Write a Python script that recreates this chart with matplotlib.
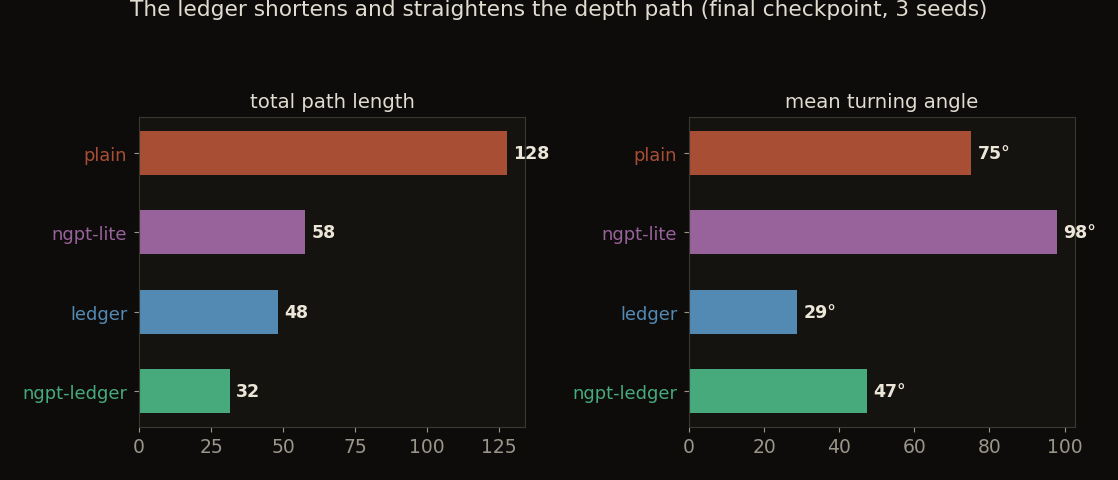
import matplotlib
matplotlib.use("Agg")
import matplotlib.pyplot as plt

categories = ["plain", "ngpt-lite", "ledger", "ngpt-ledger"]
path_length = [127.6, 57.6, 48.3, 31.6]
turning_angle = [75.2, 97.9, 28.8, 47.3]
colors = ["#a84e35", "#98629a", "#528ab4", "#47aa7c"]
titles = ["total path length", "mean turning angle"]
suptitle = "The ledger shortens and straightens the depth path (final checkpoint, 3 seeds)"

fig_bg = "#0d0c0b"
ax_bg = "#15130f"
spine_c = "#3a3832"
tick_c = "#9a968a"
text_c = "#e0dcd0"
val_c = "#ece6d8"

fig = plt.figure(figsize=(11.18, 4.81), dpi=100, facecolor=fig_bg)
ax1 = fig.add_axes([139/1118, 1-428/481, 386/1118, 310/481])
ax2 = fig.add_axes([689/1118, 1-428/481, 386/1118, 310/481])

for ax, vals, title, fmt in [(ax1, path_length, titles[0], "{:.0f}"),
                             (ax2, turning_angle, titles[1], "{:.0f}°")]:
    ax.set_facecolor(ax_bg)
    y = list(range(len(categories)))
    ax.barh(y, vals, height=0.55, color=colors)
    ax.tick_params(axis="x", colors=tick_c, labelsize=13.5)
    ax.tick_params(axis="y", colors=tick_c, pad=5)
    ax.set_yticks(y)
    ax.set_yticklabels(categories, fontsize=12.9)
    for lbl, c in zip(ax.get_yticklabels(), colors):
        lbl.set_color(c)
    ax.set_ylim(3.45, -0.45)
    ax.set_xlim(0, max(vals) * 1.05)
    for s in ax.spines.values():
        s.set_color(spine_c)
    ax.set_title(title, color=text_c, fontsize=14.2, pad=7)
    for yi, v in zip(y, vals):
        ax.text(v + max(vals) * 0.017, yi, fmt.format(v), va="center", ha="left",
                color=val_c, fontsize=12.5, fontweight="bold")

fig.text(0.5, 1 - 10/481, suptitle, ha="center", va="center", color=text_c, fontsize=15.6)

fig.savefig("out.png", dpi=100, facecolor=fig_bg)
